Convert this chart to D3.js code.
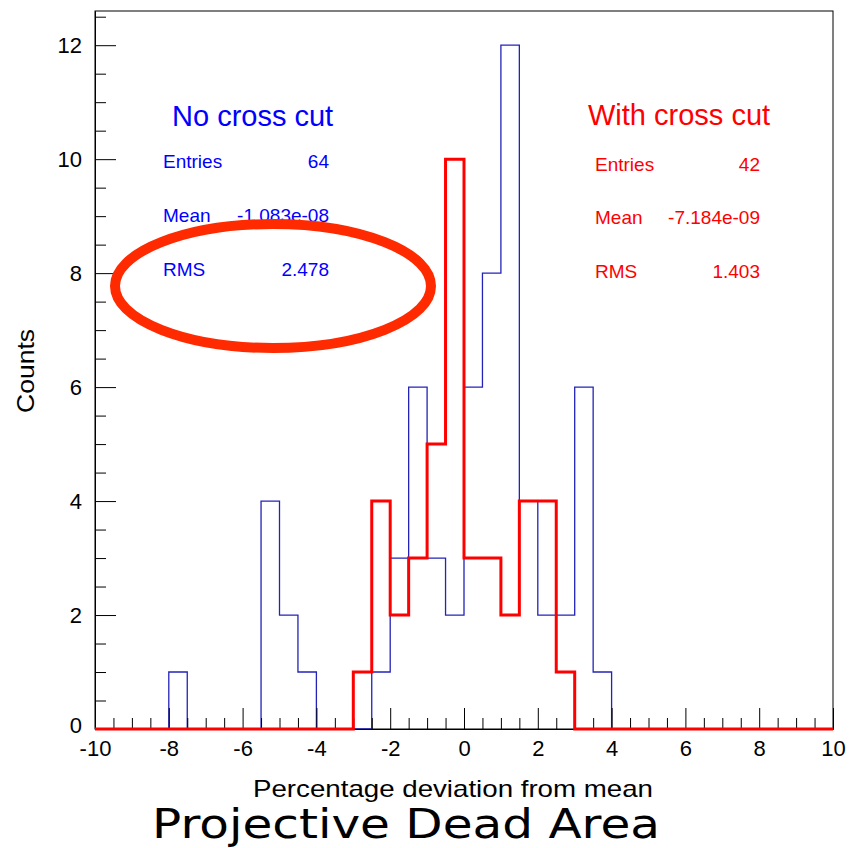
<!DOCTYPE html>
<html>
<head>
<meta charset="utf-8">
<script src="https://cdn.jsdelivr.net/npm/d3@7"></script>
<style>
  body { margin: 0; background: #fff; }
  svg { display: block; }
</style>
</head>
<body>
<div id="chart"></div>
<script>
// histogram data, 40 bins of width 0.5 from -10 to 10
const binLow = -10;
const binWidth = 0.5;
const noCutCounts = [0,0,0,0,1,0,0,0,0,4, 2,1,0,0,0,1,3,6,3,2, 6,8,12,4,2,2,6,1,0,0, 0,0,0,0,0,0,0,0,0,0];
const cutCounts   = [0,0,0,0,0,0,0,0,0,0, 0,0,0,0,1,4,2,3,5,10, 3,3,2,4,4,1,0,0,0,0, 0,0,0,0,0,0,0,0,0,0];

const xMajor = [-10,-8,-6,-4,-2,0,2,4,6,8,10];
const yMajor = [0,2,4,6,8,10,12];

const statLabels = ["Entries", "Mean", "RMS"];
const noCutStats = ["64", "-1.083e-08", "2.478"];
const cutStats = ["42", "-7.184e-09", "1.403"];

const W = 849, H = 848;
const svg = d3.select("#chart").append("svg")
  .attr("width", W).attr("height", H);

// plot frame in pixels
const plotL = 95, plotR = 833, plotT = 11, plotB = 729;

const x = d3.scaleLinear().domain([-10, 10]).range([plotL, plotR]);
const y = d3.scaleLinear().domain([0, 12.6]).range([plotB, plotT]);

// step outline of a histogram
function histPath(counts) {
  const pts = counts.map((c, i) => [binLow + i * binWidth, c]);
  pts.push([binLow + counts.length * binWidth, counts[counts.length - 1]]);
  return d3.line().x(d => x(d[0])).y(d => y(d[1])).curve(d3.curveStepAfter)(pts);
}

// frame
svg.append("rect")
  .attr("x", plotL).attr("y", plotT)
  .attr("width", plotR - plotL).attr("height", plotB - plotT)
  .attr("fill", "none").attr("stroke", "#000").attr("stroke-width", 1);

// blue: no cross cut
svg.append("path")
  .attr("d", histPath(noCutCounts))
  .attr("fill", "none").attr("stroke", "#2323b8").attr("stroke-width", 1.3);

// axes (plain hyphen minus like the original)
const font = "'Liberation Sans', Arial, Helvetica, sans-serif";
const plain = d => String(d);
const xMinor = d3.range(-10, 10.01, 0.5).filter(v => xMajor.indexOf(v) < 0);
const yMinor = d3.range(0, 12.6, 0.5).filter(v => yMajor.indexOf(v) < 0);

const gx = svg.append("g").attr("transform", `translate(0,${plotB})`);
gx.call(d3.axisBottom(x).tickValues(xMajor).tickFormat(plain).tickSize(-21).tickSizeOuter(0).tickPadding(11));
gx.append("g").call(d3.axisBottom(x).tickValues(xMinor).tickSize(-11).tickSizeOuter(0).tickFormat(""));

const gy = svg.append("g").attr("transform", `translate(${plotL},0)`);
gy.call(d3.axisLeft(y).tickValues(yMajor).tickFormat(plain).tickSize(-21).tickSizeOuter(0).tickPadding(13));
gy.append("g").call(d3.axisLeft(y).tickValues(yMinor).tickSize(-11).tickSizeOuter(0).tickFormat(""));

svg.selectAll(".domain").attr("stroke", "#000");
svg.selectAll(".tick line").attr("stroke", "#000").attr("stroke-width", 1);
svg.selectAll(".tick text")
  .attr("font-family", font).attr("font-size", 22).attr("fill", "#000");
// the zero label sits a little above the corner
gy.selectAll(".tick text").filter(d => d === 0).attr("dy", "0.15em");

// red: with cross cut
svg.append("path")
  .attr("d", histPath(cutCounts))
  .attr("fill", "none").attr("stroke", "#ff0000").attr("stroke-width", 3);

// axis titles
svg.append("text")
  .attr("x", 453).attr("y", 797)
  .attr("text-anchor", "middle")
  .attr("font-family", font).attr("font-size", 24)
  .attr("textLength", 400).attr("lengthAdjust", "spacingAndGlyphs")
  .text("Percentage deviation from mean");

svg.append("text")
  .attr("transform", "translate(34,371) rotate(-90)")
  .attr("text-anchor", "middle")
  .attr("font-family", font).attr("font-size", 24)
  .attr("textLength", 84).attr("lengthAdjust", "spacingAndGlyphs")
  .text("Counts");

// stats boxes
function stats(title, x0, titleY, labelX, valueX, rowY, values, color) {
  svg.append("text")
    .attr("x", x0).attr("y", titleY)
    .attr("font-family", font).attr("font-size", 29).attr("fill", color)
    .text(title);
  statLabels.forEach((lab, i) => {
    svg.append("text")
      .attr("x", labelX).attr("y", rowY[i])
      .attr("font-family", font).attr("font-size", 19).attr("fill", color)
      .text(lab);
    svg.append("text")
      .attr("x", valueX).attr("y", rowY[i])
      .attr("text-anchor", "end")
      .attr("font-family", font).attr("font-size", 19).attr("fill", color)
      .text(values[i]);
  });
}
stats("No cross cut", 172, 126, 163, 329, [168, 222, 276], noCutStats, "#0000ff");
stats("With cross cut", 588, 125, 595, 760, [171, 224, 278], cutStats, "#ff0000");

// highlight ellipse round the RMS line
svg.append("ellipse")
  .attr("cx", 273).attr("cy", 286)
  .attr("rx", 158).attr("ry", 62)
  .attr("fill", "none").attr("stroke", "#ff2a00").attr("stroke-width", 10);

// caption
svg.append("text")
  .attr("x", 152).attr("y", 838)
  .attr("font-family", "'Comic Sans MS', 'DejaVu Sans', sans-serif")
  .attr("font-size", 40)
  .attr("textLength", 508).attr("lengthAdjust", "spacingAndGlyphs")
  .text("Projective Dead Area");
</script>
</body>
</html>
